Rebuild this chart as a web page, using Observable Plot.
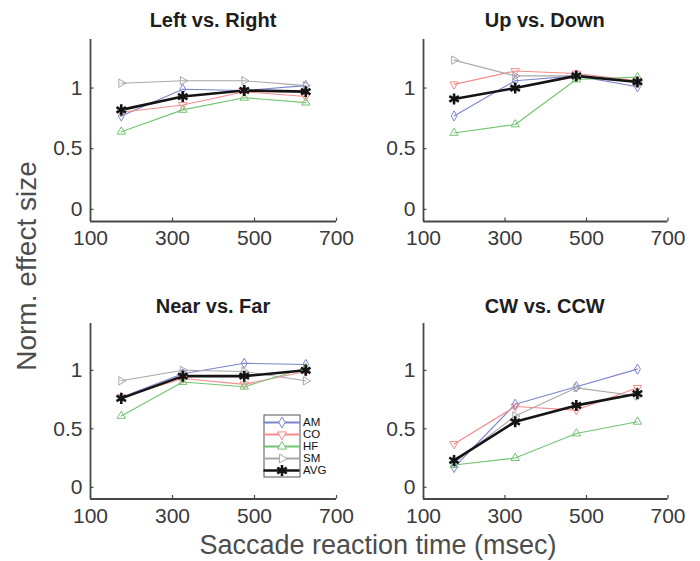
<!DOCTYPE html>
<html><head><meta charset="utf-8">
<script src="https://cdn.jsdelivr.net/npm/d3@7"></script>
<script src="https://cdn.jsdelivr.net/npm/@observablehq/plot@0.6"></script>
<style>
body{margin:0;background:#fff;}
#chart{position:relative;width:700px;height:561px;overflow:hidden;font-family:"Liberation Sans",Arial,Helvetica,sans-serif;background:#fff;}
.ptitle{position:absolute;font-weight:bold;font-size:20px;line-height:20px;color:#1e1e1e;text-align:center;white-space:nowrap;}
.alabel{position:absolute;font-size:27px;line-height:24px;color:#4d4d4d;white-space:nowrap;}
.abs{position:absolute;}
</style></head><body><div id="chart"></div>
<script>
// ---- data ----
const reactionTimes = [175, 325, 475, 625];
const seriesNames = ["AM", "CO", "HF", "SM", "AVG"];
const seriesColors = ["#7b85cc", "#f58b8b", "#72c472", "#a8a8a8", "#141414"];
const panelTitles = ["Left vs. Right", "Up vs. Down", "Near vs. Far", "CW vs. CCW"];
const xTicks = [100, 300, 500, 700];
const yTicks = [0, 0.5, 1];
const yTickLabels = ["0", "0.5", "1"];

// rows: AM, CO, HF, SM, AVG ; columns: reaction times
const leftRight = [
  [0.77, 0.99, 0.98, 1.02],
  [0.80, 0.86, 0.97, 0.93],
  [0.64, 0.82, 0.92, 0.88],
  [1.04, 1.06, 1.06, 1.02],
  [0.82, 0.93, 0.98, 0.97]
];
const upDown = [
  [0.77, 1.06, 1.10, 1.01],
  [1.03, 1.14, 1.12, 1.06],
  [0.63, 0.70, 1.07, 1.09],
  [1.23, 1.10, 1.10, 1.05],
  [0.91, 1.00, 1.10, 1.05]
];
const nearFar = [
  [0.77, 0.97, 1.06, 1.05],
  [0.77, 0.93, 0.88, 0.99],
  [0.61, 0.90, 0.86, 1.02],
  [0.91, 1.00, 0.99, 0.91],
  [0.76, 0.95, 0.95, 1.00]
];
const cwCcw = [
  [0.17, 0.71, 0.86, 1.01],
  [0.37, 0.69, 0.66, 0.85],
  [0.19, 0.25, 0.46, 0.56],
  [0.21, 0.61, 0.85, 0.78],
  [0.23, 0.56, 0.70, 0.80]
];

// ---- styles ----
const markerSymbol = ["diamond", "triangle", "triangle", "triangle", "asterisk"];
const markerRotate = [0, 180, 0, 90, 0];
const xDomain = [100, 700];
const yDomain = [-0.1, 1.4];
const axisColor = "#484848";

const chart = document.getElementById("chart");

const panelGeom = [
  {left: 90, top: 39, w: 246, h: 182},
  {left: 422.5, top: 39, w: 244.5, h: 182},
  {left: 90, top: 323, w: 246, h: 175.5},
  {left: 422.5, top: 323, w: 244.5, h: 175.5}
];
const panelValues = [leftRight, upDown, nearFar, cwCcw];

function makePanel(values, g) {
  const mL = 60, mR = 25, mT = 10, mB = 45;
  const rows = [];
  seriesNames.forEach((s, si) => reactionTimes.forEach((t, ti) =>
    rows.push({series: s, si, rt: t, v: values[si][ti]})));
  const tickLenY = 3.5 * (yDomain[1] - yDomain[0]) / g.h;
  const tickLenX = 3.5 * (xDomain[1] - xDomain[0]) / g.w;
  const marks = [
    Plot.axisX({ticks: xTicks, tickSize: 0, tickPadding: 9, fontSize: 21, label: null, tickFormat: d => String(d)}),
    Plot.axisY({ticks: yTicks, tickSize: 0, tickPadding: 8, fontSize: 21, label: null, tickFormat: d => yTickLabels[yTicks.indexOf(d)]}),
    Plot.ruleX(xTicks, {x: d => d, y1: yDomain[0], y2: yDomain[0] + tickLenY, stroke: axisColor, strokeWidth: 1.2}),
    Plot.ruleY(yTicks, {y: d => d, x1: xDomain[0], x2: xDomain[0] + tickLenX, stroke: axisColor, strokeWidth: 1.2}),
    Plot.ruleX([xDomain[0]], {stroke: axisColor, strokeWidth: 1.8}),
    Plot.ruleY([yDomain[0]], {stroke: axisColor, strokeWidth: 1.8})
  ];
  seriesNames.forEach((s, si) => {
    const d = rows.filter(r => r.si === si);
    const isAvg = s === "AVG";
    marks.push(Plot.line(d, {x: "rt", y: "v", stroke: seriesColors[si], strokeWidth: isAvg ? 2.6 : 1.1}));
  });
  seriesNames.forEach((s, si) => {
    const d = rows.filter(r => r.si === si);
    const isAvg = s === "AVG";
    marks.push(Plot.dot(d, {x: "rt", y: "v", symbol: markerSymbol[si], rotate: markerRotate[si],
      r: isAvg ? 5.2 : 3.1, fill: "none", stroke: seriesColors[si], strokeWidth: isAvg ? 2.6 : 1}));
  });
  const svg = Plot.plot({
    width: g.w + mL + mR,
    height: g.h + mT + mB,
    marginLeft: mL, marginRight: mR, marginTop: mT, marginBottom: mB,
    x: {domain: xDomain},
    y: {domain: yDomain},
    style: {color: "#3a3a3a", fontFamily: "'Liberation Sans', Arial, sans-serif", fontSize: "21px", background: "transparent", overflow: "visible"},
    marks
  });
  svg.classList.add("abs");
  svg.style.left = (g.left - mL) + "px";
  svg.style.top = (g.top - mT) + "px";
  chart.appendChild(svg);
}

panelValues.forEach((v, i) => {
  makePanel(v, panelGeom[i]);
  const t = document.createElement("div");
  t.className = "ptitle";
  t.textContent = panelTitles[i];
  const g = panelGeom[i];
  t.style.left = (g.left + g.w / 2 - 150) + "px";
  t.style.width = "300px";
  t.style.top = (g.top - 29 + (i >= 2 ? 2 : 0)) + "px";
  chart.appendChild(t);
});

// axis labels
const xl = document.createElement("div");
xl.className = "alabel";
xl.textContent = "Saccade reaction time (msec)";
xl.style.left = "78px"; xl.style.width = "600px"; xl.style.textAlign = "center";
xl.style.top = "533px";
chart.appendChild(xl);

const yl = document.createElement("div");
yl.className = "alabel";
yl.textContent = "Norm. effect size";
yl.style.fontSize = "28px"; yl.style.lineHeight = "28px";
yl.style.width = "300px"; yl.style.textAlign = "center";
yl.style.left = (27 - 150) + "px";
yl.style.top = (266 - 14) + "px";
yl.style.transform = "rotate(-90deg)";
chart.appendChild(yl);

// legend
const legW = 73.5, legH = 84.5;
const legend = Plot.plot({
  width: legW, height: legH,
  marginLeft: 6.5, marginRight: 31, marginTop: 11.5, marginBottom: 11,
  x: {domain: [0, 1], axis: null},
  y: {type: "point", domain: seriesNames, axis: null},
  style: {background: "#fff", fontFamily: "'Liberation Sans', Arial, sans-serif", overflow: "visible"},
  marks: [
    Plot.frame({stroke: "#555", strokeWidth: 1, inset: 0, marginLeft: 0, marginRight: 0, marginTop: 0, marginBottom: 0}),
    ...seriesNames.map((s, si) => Plot.ruleY([s], {y: d => d, x1: 0, x2: 1, stroke: seriesColors[si], strokeWidth: s === "AVG" ? 2.6 : 1.8})),
    ...seriesNames.map((s, si) => Plot.dot([s], {y: d => d, x: 0.5, symbol: markerSymbol[si], rotate: markerRotate[si],
      r: s === "AVG" ? 5.2 : 3.3, fill: "#fff", stroke: seriesColors[si], strokeWidth: s === "AVG" ? 2.6 : 1})),
    Plot.text(seriesNames, {y: d => d, x: 1, text: d => d, textAnchor: "start", dx: 3, fontSize: 11.5, fill: "#111"})
  ]
});
legend.classList.add("abs");
legend.style.left = "256.5px";
legend.style.top = "402.5px";
chart.appendChild(legend);
</script>
</body></html>
